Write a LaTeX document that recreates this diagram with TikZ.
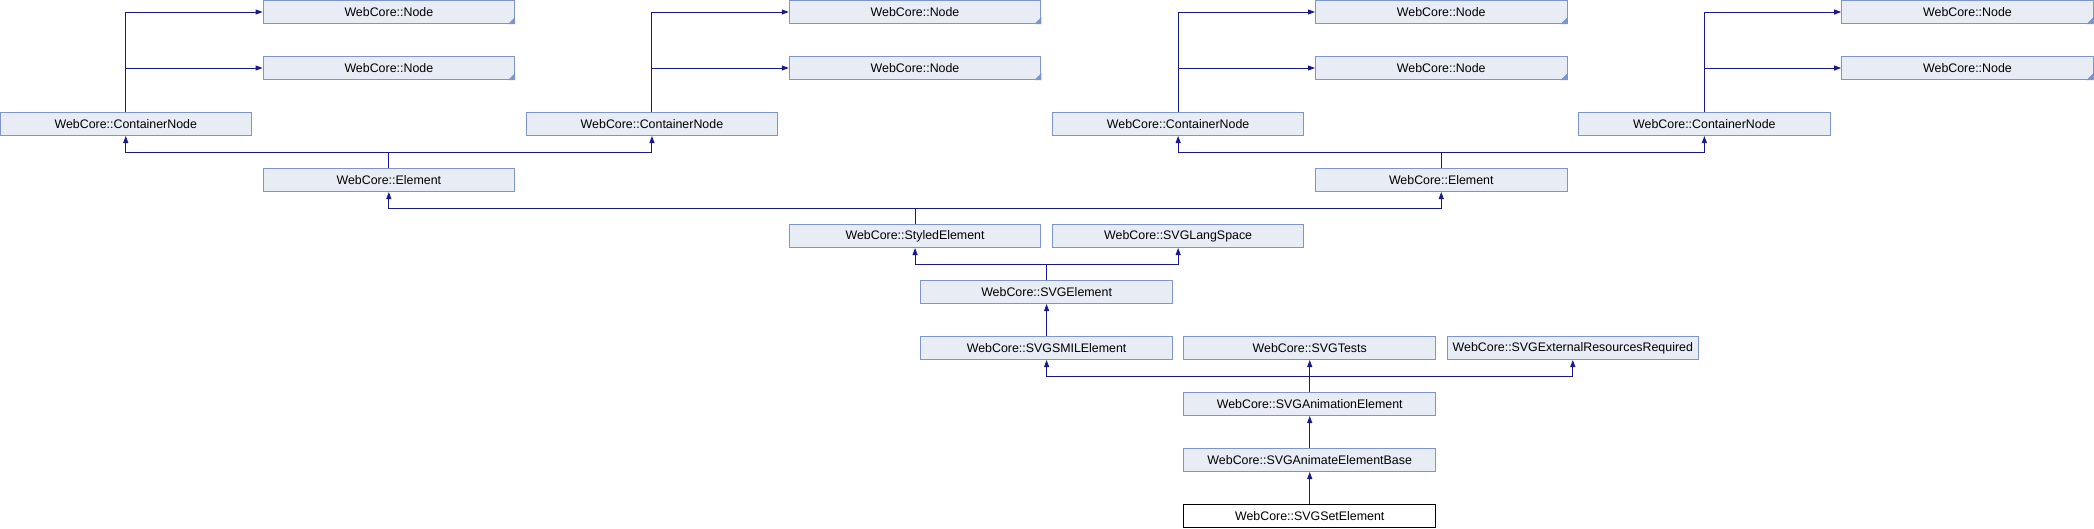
\documentclass[tikz,border=0pt]{standalone}
\usepackage{fontspec}
\setmainfont{Liberation Sans}
\usetikzlibrary{arrows.meta}
\definecolor{boxfill}{HTML}{E8ECF5}
\definecolor{boxline}{HTML}{7E95CB}
\definecolor{edgecol}{HTML}{1A1A8C}
\tikzset{
  cls/.style={draw=boxline, fill=boxfill, line width=1pt, rectangle, inner sep=0pt,
    minimum width=251.5pt, minimum height=23pt, font=\fontsize{12.4}{14}\selectfont, text=black},
  leaf/.style={cls, draw=black, fill=white},
  edge/.style={draw=edgecol, line width=1pt, -{Triangle[length=7pt,width=5pt]}},
  bus/.style={draw=edgecol, line width=1pt},
}
\newcommand{\corner}[1]{\fill[boxline] (#1.south east) -- ++(0,-7) -- ++(-7,7) -- cycle;}
\begin{document}
\begin{tikzpicture}[x=1pt,y=-1pt]
\useasboundingbox (0,0) rectangle (2094,528);
% columns
\def\cA{125.75}\def\cB{388.85}\def\cC{651.95}\def\cD{915.05}
\def\cE{1178.15}\def\cF{1441.25}\def\cG{1704.35}\def\cH{1967.45}
\def\cDE{1046.6}\def\cEF{1309.7}\def\cFG{1572.8}
% row 0/1 Nodes
\node[cls] (n1) at (\cB,12) {WebCore::Node};
\node[cls] (n2) at (\cB,68) {WebCore::Node};
\node[cls] (n3) at (\cD,12) {WebCore::Node};
\node[cls] (n4) at (\cD,68) {WebCore::Node};
\node[cls] (n5) at (\cF,12) {WebCore::Node};
\node[cls] (n6) at (\cF,68) {WebCore::Node};
\node[cls] (n7) at (\cH,12) {WebCore::Node};
\node[cls] (n8) at (\cH,68) {WebCore::Node};
\foreach \n in {n1,n2,n3,n4,n5,n6,n7,n8} {\corner{\n}}
% row 2
\node[cls] (cn1) at (\cA,124) {WebCore::ContainerNode};
\node[cls] (cn2) at (\cC,124) {WebCore::ContainerNode};
\node[cls] (cn3) at (\cE,124) {WebCore::ContainerNode};
\node[cls] (cn4) at (\cG,124) {WebCore::ContainerNode};
% row 3
\node[cls] (el1) at (\cB,180) {WebCore::Element};
\node[cls] (el2) at (\cF,180) {WebCore::Element};
% row 4
\node[cls] (sty) at (\cD,236) {WebCore::StyledElement};
\node[cls] (lang) at (\cE,236) {WebCore::SVGLangSpace};
% row 5
\node[cls] (svgel) at (\cDE,292) {WebCore::SVGElement};
% row 6
\node[cls] (smil) at (\cDE,348) {WebCore::SVGSMILElement};
\node[cls] (tests) at (\cEF,348) {WebCore::SVGTests};
\node[cls] (ext) at (\cFG,348) {WebCore::SVGExternalResourcesRequired};
% rows 7-9
\node[cls] (anim) at (\cEF,404) {WebCore::SVGAnimationElement};
\node[cls] (base) at (\cEF,460) {WebCore::SVGAnimateElementBase};
\node[leaf] (set) at (\cEF,516) {WebCore::SVGSetElement};
% ContainerNode -> Node
\draw[edge] (cn1.north) |- (n1.west);
\draw[edge] (cn1.north) |- (n2.west);
\draw[edge] (cn2.north) |- (n3.west);
\draw[edge] (cn2.north) |- (n4.west);
\draw[edge] (cn3.north) |- (n5.west);
\draw[edge] (cn3.north) |- (n6.west);
\draw[edge] (cn4.north) |- (n7.west);
\draw[edge] (cn4.north) |- (n8.west);
% Element -> ContainerNode
\coordinate (b1) at (\cB,152);
\coordinate (b2) at (\cF,152);
\draw[bus] (el1.north) -- (b1);
\draw[edge] (b1) -| (cn1.south);
\draw[edge] (b1) -| (cn2.south);
\draw[bus] (el2.north) -- (b2);
\draw[edge] (b2) -| (cn3.south);
\draw[edge] (b2) -| (cn4.south);
% StyledElement -> Element
\coordinate (b3) at (\cD,208);
\draw[bus] (sty.north) -- (b3);
\draw[edge] (b3) -| (el1.south);
\draw[edge] (b3) -| (el2.south);
% SVGElement -> StyledElement, SVGLangSpace
\coordinate (b4) at (\cDE,264);
\draw[bus] (svgel.north) -- (b4);
\draw[edge] (b4) -| (sty.south);
\draw[edge] (b4) -| (lang.south);
% SMIL -> SVGElement
\draw[edge] (smil.north) -- (svgel.south);
% Animation -> SMIL, Tests, External
\coordinate (b5) at (\cEF,376);
\draw[bus] (anim.north) -- (b5);
\draw[edge] (b5) -| (smil.south);
\draw[edge] (b5) -- (tests.south);
\draw[edge] (b5) -| (ext.south);
% chain
\draw[edge] (base.north) -- (anim.south);
\draw[edge] (set.north) -- (base.south);
\end{tikzpicture}
\end{document}
